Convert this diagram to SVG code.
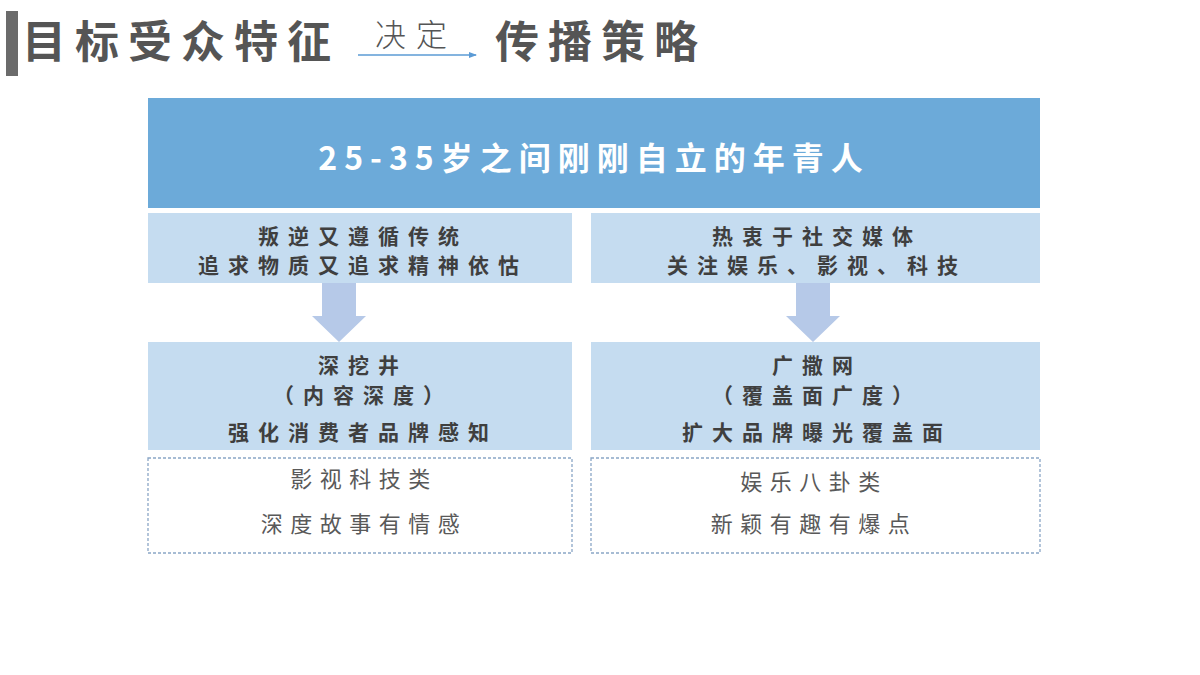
<svg xmlns="http://www.w3.org/2000/svg" width="1200" height="675" viewBox="0 0 1200 675">
<defs>
<style>
.t{font-family:"Noto Sans CJK SC","Liberation Sans",sans-serif}
.title{font-size:44px;font-weight:700;fill:#555555;letter-spacing:9px}
.sub{font-size:31px;font-weight:300;fill:#555555;letter-spacing:10px}
.head{font-size:32px;font-weight:700;fill:#ffffff;letter-spacing:7px;text-anchor:middle}
.b{font-size:21px;font-weight:700;fill:#3f3f3f;letter-spacing:9px;text-anchor:middle}
.n{font-size:22px;font-weight:400;fill:#595959;letter-spacing:7.5px;text-anchor:middle}
.lb{fill:#c5dcf0}
.dash{fill:#ffffff;stroke:#8aa6c6;stroke-width:1.3;stroke-dasharray:3 2}
.arr{fill:#b6c9e8}
</style>
<marker id="ah" markerWidth="8" markerHeight="8" refX="7" refY="4" orient="auto" markerUnits="userSpaceOnUse">
<path d="M0,1 L8,4 L0,7 Z" fill="#5b9bd5"/>
</marker>
</defs>
<rect width="1200" height="675" fill="#ffffff"/>
<g id="title">
<rect x="6" y="11" width="12" height="65" fill="#6b6b6b"/>
<text class="t title" x="22" y="58">目标受众特征</text>
<text class="t sub" x="375" y="46">决定</text>
<line x1="358" y1="55" x2="476" y2="55" stroke="#5b9bd5" stroke-width="1.5" marker-end="url(#ah)"/>
<text class="t title" x="495" y="58">传播策略</text>
</g>
<g id="top">
<rect x="148" y="98" width="892" height="110" fill="#6caad9"/>
<text class="t head" x="594" y="170">25-35岁之间刚刚自立的年青人</text>
</g>
<g id="traitL">
<rect class="lb" x="148" y="213" width="424" height="70"/>
<text class="t b" x="363" y="244">叛逆又遵循传统</text>
<text class="t b" x="363" y="273">追求物质又追求精神依怙</text>
</g>
<g id="traitR">
<rect class="lb" x="591" y="213" width="449" height="70"/>
<text class="t b" x="817" y="244">热衷于社交媒体</text>
<text class="t b" x="817" y="273">关注娱乐、影视、科技</text>
</g>
<g id="connectors">
<path class="arr" d="M322,283 H356 V316 H366 L339,342 L312,316 H322 Z"/>
<path class="arr" d="M796,283 H830 V316 H840 L813,342 L786,316 H796 Z"/>
</g>
<g id="stratL">
<rect class="lb" x="148" y="342" width="424" height="108"/>
<text class="t b" x="363" y="373">深挖井</text>
<text class="t b" x="363" y="403">（内容深度）</text>
<text class="t b" x="363" y="440">强化消费者品牌感知</text>
</g>
<g id="stratR">
<rect class="lb" x="591" y="342" width="449" height="108"/>
<text class="t b" x="817" y="373">广撒网</text>
<text class="t b" x="817" y="403">（覆盖面广度）</text>
<text class="t b" x="817" y="440">扩大品牌曝光覆盖面</text>
</g>
<g id="contentL">
<rect class="dash" x="148" y="458" width="424" height="95"/>
<text class="t n" x="364" y="487">影视科技类</text>
<text class="t n" x="364" y="532">深度故事有情感</text>
</g>
<g id="contentR">
<rect class="dash" x="591" y="458" width="449" height="95"/>
<text class="t n" x="814" y="490">娱乐八卦类</text>
<text class="t n" x="814" y="532">新颖有趣有爆点</text>
</g>
</svg>
